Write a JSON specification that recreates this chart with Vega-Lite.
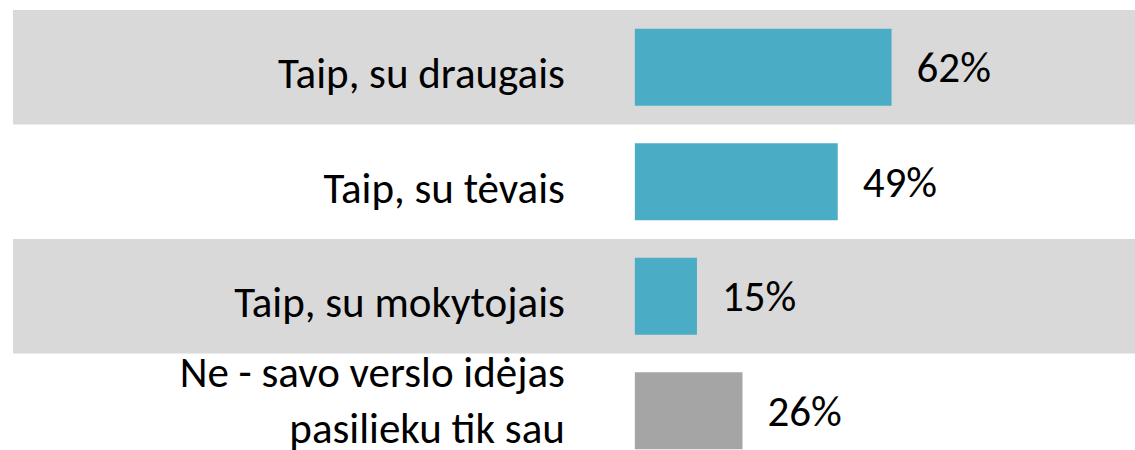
{
  "$schema": "https://vega.github.io/schema/vega-lite/v6.json",
  "width": 1122,
  "height": 458,
  "autosize": "none",
  "padding": {"left": 13, "top": 10, "right": 0, "bottom": 0},
  "background": "white",
  "config": {"view": {"stroke": null}},
  "data": {
    "values": [
      {"answer": "Taip, su draugais", "share": 0.62, "group": "Taip", "shaded": true},
      {"answer": "Taip, su tėvais", "share": 0.49, "group": "Taip", "shaded": false},
      {"answer": "Taip, su mokytojais", "share": 0.15, "group": "Taip", "shaded": true},
      {"answer": "Ne - savo verslo idėjas\npasilieku tik sau", "share": 0.26, "group": "Ne", "shaded": false}
    ]
  },
  "encoding": {
    "y": {
      "field": "answer",
      "type": "nominal",
      "scale": {
        "domain": ["Taip, su draugais", "Taip, su tėvais", "Taip, su mokytojais", "Ne - savo verslo idėjas\npasilieku tik sau"],
        "paddingInner": 0,
        "paddingOuter": 0
      },
      "axis": null
    }
  },
  "layer": [
    {
      "transform": [{"filter": "datum.shaded"}],
      "mark": {"type": "bar", "color": "#D9D9D9"},
      "encoding": {"x": {"value": 0}, "x2": {"value": "width"}}
    },
    {
      "mark": {"type": "bar", "height": {"band": 0.672}},
      "encoding": {
        "x": {
          "field": "share",
          "type": "quantitative",
          "scale": {"domain": [-1.502, 1.208], "nice": false, "zero": false},
          "axis": null
        },
        "color": {
          "field": "group",
          "type": "nominal",
          "scale": {"domain": ["Taip", "Ne"], "range": ["#4BACC6", "#A5A5A5"]},
          "legend": null
        }
      }
    },
    {
      "mark": {"type": "text", "align": "left", "baseline": "middle", "dx": 25, "dy": 2, "fontSize": 43, "font": "Carlito, Calibri, Lato, sans-serif", "color": "#000000"},
      "encoding": {
        "x": {"field": "share", "type": "quantitative"},
        "text": {"field": "share", "type": "quantitative", "format": ".0%"}
      }
    },
    {
      "transform": [{"filter": "datum.group === 'Taip'"}],
      "mark": {"type": "text", "align": "right", "baseline": "middle", "dx": -70, "dy": 8, "fontSize": 43, "font": "Carlito, Calibri, Lato, sans-serif", "color": "#000000"},
      "encoding": {
        "x": {"datum": 0},
        "text": {"field": "answer"}
      }
    },
    {
      "transform": [{"filter": "datum.group === 'Ne'"}],
      "mark": {"type": "text", "align": "right", "baseline": "middle", "dx": -70, "dy": -37, "fontSize": 43, "lineBreak": "\n", "lineHeight": 56, "font": "Carlito, Calibri, Lato, sans-serif", "color": "#000000"},
      "encoding": {
        "x": {"datum": 0},
        "text": {"field": "answer"}
      }
    }
  ]
}
